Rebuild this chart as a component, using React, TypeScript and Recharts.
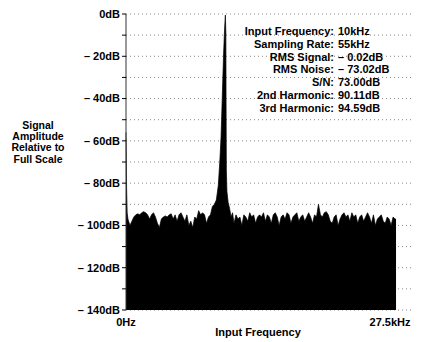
import React from 'react';
import { AreaChart, Area, XAxis, YAxis, CartesianGrid } from 'recharts';

// FFT of a 10kHz tone (kHz, dB re full scale)
const dcBins: Array<[number, number]> = [[0, -56], [0.06, -82], [0.12, -94]];

const noiseStepKHz = 0.2;
const noiseBelowPeakStart = 0.2;
const noiseBelowPeakDb = [
  -97, -100, -98, -96, -95, -94.5, -95,
  -94, -93.5, -94, -95, -97, -95, -94, -96, -99, -101,
  -97, -96, -95.5, -96, -95, -94.5, -97, -95, -98, -95, -94,
  -96, -98, -95, -100, -98, -101, -96, -97, -93, -95,
  -94, -95, -99, -96,
];

const peakBins: Array<[number, number]> = [
  [8.6, -95], [8.8, -91], [9.0, -90], [9.2, -88], [9.4, -81], [9.55, -70],
  [9.68, -58], [9.8, -40], [9.93, -20], [10.04, -7], [10.12, -0.5],
  [10.17, -9], [10.19, -40], [10.22, -74], [10.28, -84], [10.4, -89],
  [10.55, -92], [10.7, -96], [10.85, -94],
];

const noiseAbovePeakStart = 11.0;
const noiseAbovePeakDb = [
  -99, -95, -97, -96, -100, -95, -96, -98, -94, -96, -95, -99, -96, -95,
  -96, -94, -98, -95, -96, -99, -95, -94, -96, -100, -96, -95, -97, -94, -95, -99, -96, -95, -94, -98, -96,
  -95, -98, -96, -94, -96, -99, -95, -96, -90, -95,
  -96, -94, -93.5, -95, -98, -99, -96, -95, -100, -97, -95, -94, -96, -95, -98, -94, -96, -95, -99, -96,
  -95, -98, -96, -94, -96, -99, -95, -100, -97, -96, -95, -98, -99, -96, -97, -100, -96, -97,
];
const lastBin: [number, number] = [27.5, -97];

const yTicks = [0, -10, -20, -30, -40, -50, -60, -70, -80, -90, -100, -110, -120, -130, -140];
const xTicks = [0, 27.5];
const xTickLabels = ['0Hz', '27.5kHz'];
const yAxisTitle = ['Signal', 'Amplitude', 'Relative to', 'Full Scale'];
const xAxisTitle = 'Input Frequency';
const statLabels = ['Input Frequency:', 'Sampling Rate:', 'RMS Signal:', 'RMS Noise:', 'S/N:', '2nd Harmonic:', '3rd Harmonic:'];
const statValues = ['10kHz', '55kHz', '– 0.02dB', '– 73.02dB', '73.00dB', '90.11dB', '94.59dB'];

const spectrum = [
  ...dcBins.map(([f, db]) => ({ f, db })),
  ...noiseBelowPeakDb.map((db, i) => ({ f: +(noiseBelowPeakStart + i * noiseStepKHz).toFixed(2), db })),
  ...peakBins.map(([f, db]) => ({ f, db })),
  ...noiseAbovePeakDb.map((db, i) => ({ f: +(noiseAbovePeakStart + i * noiseStepKHz).toFixed(2), db })),
  { f: lastBin[0], db: lastBin[1] },
];

const font = '"Liberation Sans", Arial, sans-serif';

const formatDb = (v: number) => {
  if (v % 20 !== 0) return '';
  return v === 0 ? '0dB' : `– ${-v}dB`;
};

const FreqTick = (props: any) => {
  const { x, y, payload } = props;
  const idx = xTicks.indexOf(payload.value);
  const shift = idx === xTicks.length - 1 ? -6 : 0;
  return (
    <text x={x + shift} y={y + 8} textAnchor="middle" fontSize={11} fontWeight="bold" fontFamily={font} fill="#000">
      {xTickLabels[idx]}
    </text>
  );
};

export default function App() {
  return (
    <div style={{ position: 'absolute', left: 0, top: 0, width: 422, height: 342, background: '#fff' }}>
      <AreaChart width={422} height={342} data={spectrum} margin={{ top: 14, right: 8, bottom: 2, left: 0 }}>
        <CartesianGrid vertical={false} stroke="#888" strokeDasharray="1 3" />
        <XAxis
          dataKey="f"
          type="number"
          domain={[0, 29.33]}
          ticks={xTicks}
          tick={<FreqTick />}
          axisLine={false}
          tickLine={false}
          height={30}
        />
        <YAxis
          type="number"
          domain={[-140, 0]}
          ticks={yTicks}
          interval={0}
          width={126}
          tickSize={4}
          tickFormatter={formatDb}
          axisLine={{ stroke: '#333' }}
          tickLine={{ stroke: '#000' }}
          tick={{ fontSize: 11, fontWeight: 'bold', fontFamily: font, fill: '#000' }}
        />
        <Area
          type="linear"
          dataKey="db"
          baseValue={-140}
          stroke="#000"
          strokeWidth={0.7}
          fill="#000"
          fillOpacity={1}
          isAnimationActive={false}
        />
      </AreaChart>
      <svg width={422} height={342} style={{ position: 'absolute', left: 0, top: 0, pointerEvents: 'none' }}>
        <g fontFamily={font} fontWeight="bold" fill="#000">
          {yAxisTitle.map((t, i) => (
            <text key={t} x={38} y={129 + i * 11.2} textAnchor="middle" fontSize={10.5}>{t}</text>
          ))}
          <text x={258} y={336} textAnchor="middle" fontSize={11}>{xAxisTitle}</text>
          {statLabels.map((t, i) => (
            <text key={t} x={334} y={35 + i * 12.8} textAnchor="end" fontSize={11}>{t}</text>
          ))}
          {statValues.map((t, i) => (
            <text key={t} x={338} y={35 + i * 12.8} fontSize={11}>{t}</text>
          ))}
        </g>
      </svg>
    </div>
  );
}
